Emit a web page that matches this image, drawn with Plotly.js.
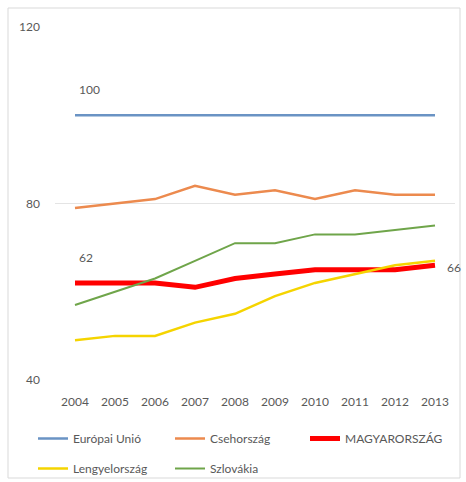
<!DOCTYPE html>
<html>
<head>
<meta charset="utf-8">
<script src="https://cdn.plot.ly/plotly-3.0.1.min.js"></script>
<style>html,body{margin:0;padding:0;background:#fff;}#chart{width:466px;height:482px;}</style>
</head>
<body>
<div id="chart"></div>
<script>
const years = ["2004","2005","2006","2007","2008","2009","2010","2011","2012","2013"];
const seriesNames = ["Európai Unió","Csehország","MAGYARORSZÁG","Lengyelország","Szlovákia"];
const eu = [100,100,100,100,100,100,100,100,100,100];
const cz = [79,80,81,84,82,83,81,83,82,82];
const hu = [62,62,62,61,63,64,65,65,65,66];
const pl = [49,50,50,53,55,59,62,64,66,67];
const sk = [57,60,63,67,71,71,73,73,74,75];
const yTicks = [40,80,120];

const colors = ["#6a93c4","#ec8a4e","#ff0000","#f5d400","#6fa54a"];
const widths = [2.5,2.5,5,2.5,2];
const data = [eu,cz,hu,pl,sk];
const legendIds = ["legend","legend2","legend3","legend4","legend5"];
// legend item positions (pixels in the page)
const legPos = [[33,424],[170,424],[305,424],[33,454],[170,454]];

const traces = data.map((vals,i)=>({
  type:"scatter", mode:"lines", x:years, y:vals, name:seriesNames[i],
  line:{color:colors[i], width:widths[i]}, legend:legendIds[i], hoverinfo:"skip"
}));

const font = {family:"Lato, 'Liberation Sans', sans-serif", size:12, color:"#595959"};
const W=400, H=353, L=55, T=27;
const px = v => (v-L)/W;
const py = v => (T+H-v)/H;

const layout = {
  width:466, height:482,
  margin:{l:L, r:11, t:T, b:102, autoexpand:false},
  paper_bgcolor:"#fff", plot_bgcolor:"#fff",
  font:font,
  showlegend:true,
  xaxis:{type:"category", range:[-0.5,9.5], showgrid:false, zeroline:false, showline:false,
         ticks:"", tickfont:font, ticklabelstandoff:13},
  yaxis:{range:[40,120], tickvals:yTicks, showgrid:true, gridcolor:"#e4e4e4", gridwidth:1,
         zeroline:false, showline:false, ticks:"", tickfont:font, ticklabelstandoff:14},
  annotations:[
    {x:0, y:eu[0], xref:"x", yref:"y", text:String(eu[0]), showarrow:false,
     xanchor:"left", yanchor:"middle", xshift:2, yshift:26, font:font},
    {x:0, y:hu[0], xref:"x", yref:"y", text:String(hu[0]), showarrow:false,
     xanchor:"left", yanchor:"middle", xshift:2, yshift:25, font:font},
    {x:9, y:hu[9], xref:"x", yref:"y", text:String(hu[9]), showarrow:false,
     xanchor:"left", yanchor:"middle", xshift:10, yshift:-2, font:font}
  ],
  shapes:[
    {type:"rect", xref:"paper", yref:"paper", x0:px(8), x1:px(460), y0:py(478), y1:py(8),
     line:{color:"#d9d9d9", width:1}, fillcolor:"rgba(0,0,0,0)", layer:"below"}
  ]
};
legendIds.forEach((id,i)=>{
  layout[id] = {orientation:"h", x:px(legPos[i][0]), y:py(legPos[i][1]), xanchor:"left", yanchor:"top",
    font:font, bgcolor:"rgba(0,0,0,0)"};
});

Plotly.newPlot("chart", traces, layout, {staticPlot:true, displayModeBar:false});
</script>
</body>
</html>
